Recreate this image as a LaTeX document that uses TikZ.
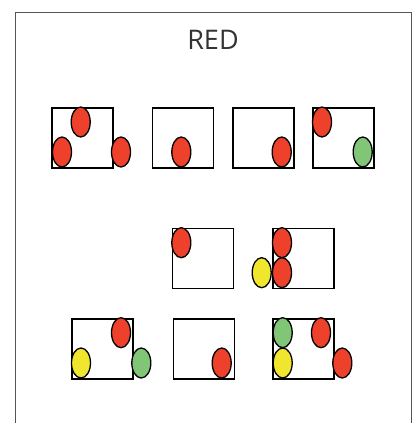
\documentclass[tikz,border=0pt]{standalone}
\usepackage{fontspec}
\setmainfont{Open Sans}
\usetikzlibrary{shapes.geometric}
\definecolor{rd}{HTML}{EE412B}
\definecolor{gn}{HTML}{80C676}
\definecolor{yl}{HTML}{F0E62E}
\definecolor{frm}{HTML}{555555}
\definecolor{txt}{HTML}{333333}
\tikzset{
  sq/.style={draw=black, line width=1.6pt, minimum width=61pt, minimum height=60pt, inner sep=0pt, anchor=north west},
  ball/.style={ellipse, draw=black, line width=1.3pt, minimum width=19pt, minimum height=30pt, inner sep=0pt},
  redball/.style={ball, fill=rd},
  greenball/.style={ball, fill=gn},
  yellowball/.style={ball, fill=yl}
}
\begin{document}
\begin{tikzpicture}[x=1pt, y=-1pt]
\useasboundingbox (0,0) rectangle (414,423);
% frame
\draw[frm, line width=1.3pt] (15.7,424) -- (15.7,12.7) -- (411.7,12.7) -- (411.7,424);
\node[text=txt, font=\fontsize{27}{30}\selectfont] (title) at (213,40) {RED};
% row 1
\node[sq] (b1) at (51,107) {};
\node[sq] (b2) at (151.7,107) {};
\node[sq] (b3) at (232,107) {};
\node[sq] (b4) at (312.3,107) {};
\node[redball] (e1a) at (80.7,122) {};
\node[redball] (e1b) at (62,152) {};
\node[redball] (e1c) at (121,152) {};
\node[redball] (e2a) at (181.3,152) {};
\node[redball] (e3a) at (281.7,152) {};
\node[redball] (e4a) at (322,122) {};
\node[greenball] (e4b) at (362.7,152) {};
% row 2
\node[sq] (b5) at (171.7,227.7) {};
\node[sq] (b6) at (272.3,227.7) {};
\node[redball] (e5a) at (181.3,242.7) {};
\node[redball] (e6a) at (282,242.7) {};
\node[redball] (e6b) at (282,272.7) {};
\node[yellowball] (e6c) at (261.7,272.7) {};
% row 3
\node[sq] (b7) at (71,318.3) {};
\node[sq] (b8) at (172.7,318.3) {};
\node[sq] (b9) at (272.3,318.3) {};
\node[redball] (e7a) at (121,332.7) {};
\node[yellowball] (e7b) at (81,363) {};
\node[greenball] (e7c) at (141.3,363) {};
\node[redball] (e8a) at (221.7,363) {};
\node[greenball] (e9a) at (282.7,332.7) {};
\node[yellowball] (e9b) at (282.7,363) {};
\node[redball] (e9c) at (321,332.7) {};
\node[redball] (e9d) at (342.3,363) {};
\end{tikzpicture}
\end{document}
